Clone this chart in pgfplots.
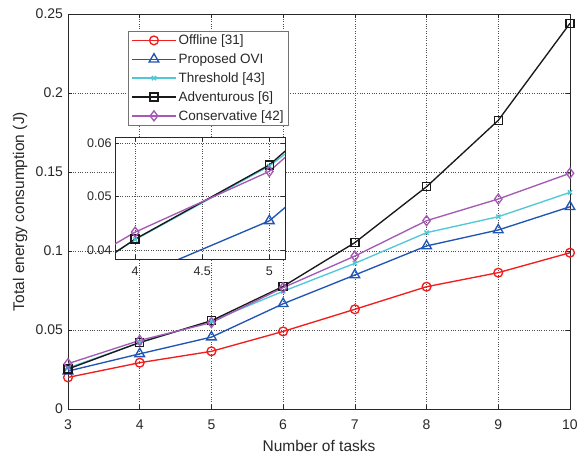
\documentclass[border=0pt]{standalone}
\usepackage{fontspec}
\setmainfont{Liberation Sans}
\usepackage{pgfplots}
\usepackage{pgfplotstable}
\pgfplotsset{compat=1.18}

\definecolor{cRed}{RGB}{240,30,30}
\definecolor{cBlue}{RGB}{33,85,180}
\definecolor{cCyan}{RGB}{80,200,215}
\definecolor{cPurple}{RGB}{165,90,180}
\definecolor{cAx}{RGB}{40,40,40}

\pgfplotstableread{
x offline proposed threshold advent conserv
3 0.0200 0.0240 0.0260 0.0253 0.0287
4 0.0293 0.0349 0.0420 0.0421 0.0434
5 0.0365 0.0455 0.0557 0.0559 0.0547
6 0.0491 0.0666 0.0745 0.0776 0.0768
7 0.0631 0.0848 0.0922 0.1053 0.0968
8 0.0774 0.1032 0.1116 0.1407 0.1192
9 0.0863 0.1133 0.1217 0.1827 0.1329
10 0.0989 0.1280 0.1371 0.2441 0.1492
}\datatab

\pgfplotsset{
  sOff/.style={cRed, line width=1.35bp, mark=o, mark size=4.4bp, mark options={solid}},
  sPro/.style={cBlue, line width=1.35bp, mark=triangle, mark size=5.6bp, mark options={solid}},
  sThr/.style={cCyan, line width=1.35bp, mark=x, mark size=3bp, mark options={solid}},
  sAdv/.style={black!90, line width=1.35bp, mark=square, mark size=4bp, mark options={solid}},
  sCon/.style={cPurple, line width=1.35bp, mark=diamond, mark size=5bp, mark options={solid}},
  common/.style={
    scale only axis,
    grid=major,
    major grid style={dotted, black!70, line width=0.6pt},
    axis line style={cAx, line width=0.6pt},
    tick style={cAx, line width=0.6pt},
    tick align=inside,
    scaled x ticks=false, scaled y ticks=false,
    /pgf/number format/assume math mode=true,
  },
}

\begin{document}
\begin{tikzpicture}
\useasboundingbox (-68bp,-48bp) rectangle (517bp,409bp);
\begin{axis}[common,
  at={(0,0)}, anchor=south west,
  width=502bp, height=395bp,
  xmin=3, xmax=10, ymin=0, ymax=0.25,
  xtick={3,4,5,6,7,8,9,10},
  ytick={0,0.05,0.1,0.15,0.2,0.25},
  yticklabels={0,0.05,0.1,0.15,0.2,0.25},
  tick label style={font=\fontsize{14bp}{16bp}\selectfont, text=cAx},
  xticklabel style={yshift=-7bp},
  yticklabel style={xshift=-1.5bp},
  xlabel={Number of tasks},
  ylabel={Total energy consumption (J)},
  label style={font=\fontsize{15.5bp}{18bp}\selectfont, text=cAx},
  xlabel style={at={(axis description cs:0.5,-0.108)}, anchor=base},
  ylabel style={at={(axis description cs:-0.0876,0.5)}, anchor=base},
  legend style={at={(axis description cs:0.1195,0.957)}, anchor=north west,
    font=\fontsize{13.5bp}{15bp}\selectfont, draw=black!55, line width=0.6pt,
    row sep=3.6bp, inner xsep=3bp, inner ysep=1.5bp, text=cAx},
  legend cell align=left,
  legend image code/.code={\draw[mark repeat=2,mark phase=2,#1] plot coordinates {(0bp,0bp) (22bp,0bp) (44bp,0bp)};},
]
\addplot[sOff] table[x=x,y=offline] {\datatab};
\addlegendentry{Offline [31]}
\addplot[sPro] table[x=x,y=proposed] {\datatab};
\addlegendentry{Proposed OVI}
\addplot[sThr] table[x=x,y=threshold] {\datatab};
\addlegendentry{Threshold [43]}
\addplot[sAdv] table[x=x,y=advent] {\datatab};
\addlegendentry{Adventurous [6]}
\addplot[sCon] table[x=x,y=conserv] {\datatab};
\addlegendentry{Conservative [42]}
\end{axis}

\begin{axis}[common,
  at={(47bp,150bp)}, anchor=south west,
  width=170bp, height=122bp,
  xmin=3.85, xmax=5.117, ymin=0.0384, ymax=0.0611,
  xtick={4,4.5,5}, xticklabels={4,4.5,5},
  ytick={0.04,0.05,0.06}, yticklabels={0.04,0.05,0.06},
  tick label style={font=\fontsize{12.5bp}{14bp}\selectfont, text=cAx},
  xticklabel style={yshift=-4bp},
  axis background/.style={fill=white},
]
\addplot[sOff] table[x=x,y=offline] {\datatab};
\addplot[sPro] table[x=x,y=proposed] {\datatab};
\addplot[sThr] table[x=x,y=threshold] {\datatab};
\addplot[sAdv] table[x=x,y=advent] {\datatab};
\addplot[sCon] table[x=x,y=conserv] {\datatab};
\end{axis}
\end{tikzpicture}
\end{document}
